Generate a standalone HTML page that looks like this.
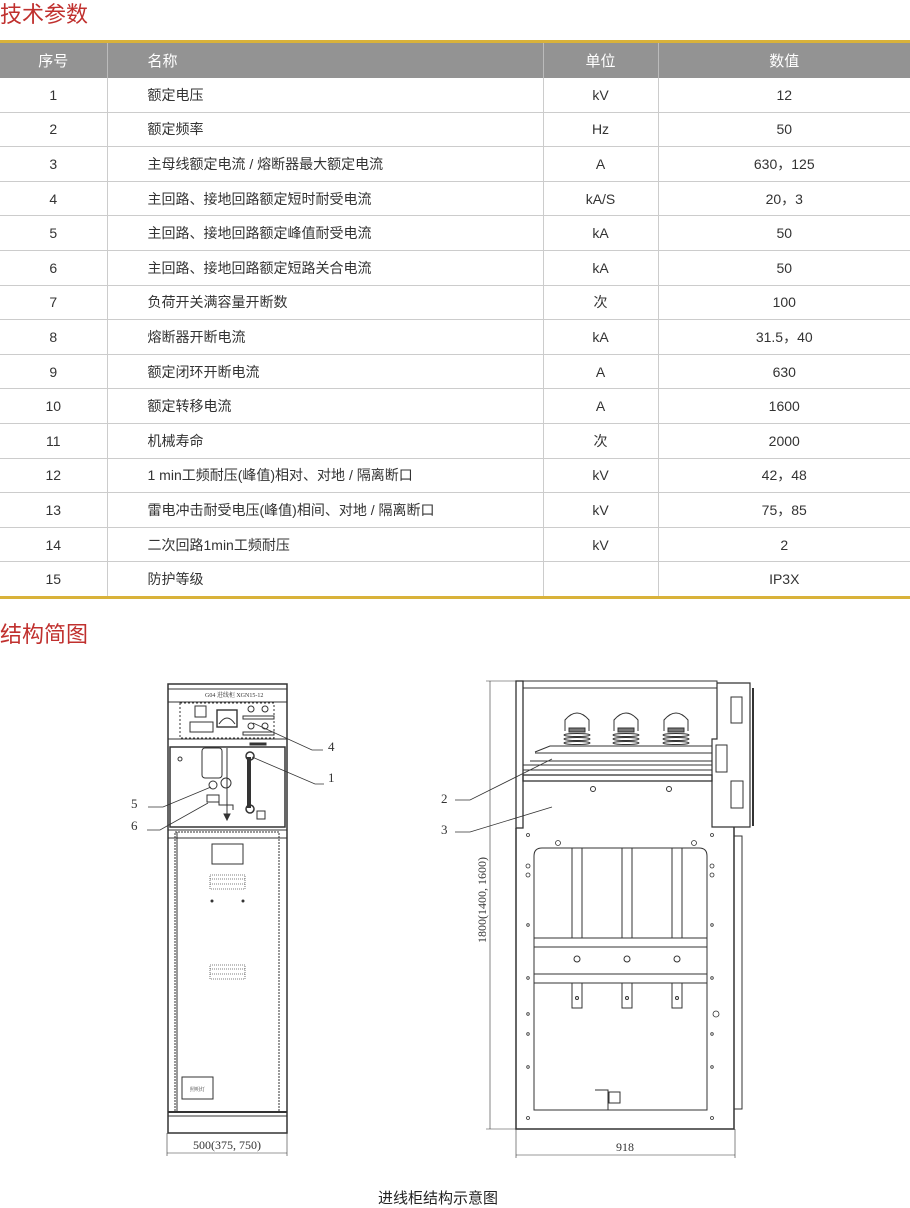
<!DOCTYPE html>
<html><head><meta charset="utf-8"><style>
body{margin:0;width:910px;height:1206px;background:#fff;position:relative;overflow:hidden;font-family:"Liberation Sans","Noto Sans CJK SC",sans-serif;}
.t{position:absolute;color:#c0302e;font-size:22px;left:0;line-height:26px;}
table{position:absolute;left:0;top:40px;width:910px;border-collapse:collapse;border-top:3px solid #d9b23a;border-bottom:3px solid #d9b23a;font-size:14px;color:#333;}
td,th{height:33.6px;padding:0;text-align:center;border-left:1px solid #ccc;border-bottom:1px solid #ccc;}
th{background:#939393;color:#fff;font-weight:normal;height:35px;font-size:15px;border-left:1px solid #bbb;border-bottom:none;}
td:first-child,th:first-child{border-left:none;}
td.n,th.n{text-align:left;padding-left:40px;}
tr:last-child td{border-bottom:none;}
svg{position:absolute;left:0;top:0;}
</style></head><body>
<div class="t" style="top:2px">技术参数</div>
<table>
<colgroup><col style="width:107px"><col style="width:436px"><col style="width:115px"><col></colgroup>
<tr><th>序号</th><th class="n">名称</th><th>单位</th><th>数值</th></tr>
<tr><td>1</td><td class="n">额定电压</td><td>kV</td><td>12</td></tr>
<tr><td>2</td><td class="n">额定频率</td><td>Hz</td><td>50</td></tr>
<tr><td>3</td><td class="n">主母线额定电流 / 熔断器最大额定电流</td><td>A</td><td>630，125</td></tr>
<tr><td>4</td><td class="n">主回路、接地回路额定短时耐受电流</td><td>kA/S</td><td>20，3</td></tr>
<tr><td>5</td><td class="n">主回路、接地回路额定峰值耐受电流</td><td>kA</td><td>50</td></tr>
<tr><td>6</td><td class="n">主回路、接地回路额定短路关合电流</td><td>kA</td><td>50</td></tr>
<tr><td>7</td><td class="n">负荷开关满容量开断数</td><td>次</td><td>100</td></tr>
<tr><td>8</td><td class="n">熔断器开断电流</td><td>kA</td><td>31.5，40</td></tr>
<tr><td>9</td><td class="n">额定闭环开断电流</td><td>A</td><td>630</td></tr>
<tr><td>10</td><td class="n">额定转移电流</td><td>A</td><td>1600</td></tr>
<tr><td>11</td><td class="n">机械寿命</td><td>次</td><td>2000</td></tr>
<tr><td>12</td><td class="n">1 min工频耐压(峰值)相对、对地 / 隔离断口</td><td>kV</td><td>42，48</td></tr>
<tr><td>13</td><td class="n">雷电冲击耐受电压(峰值)相间、对地 / 隔离断口</td><td>kV</td><td>75，85</td></tr>
<tr><td>14</td><td class="n">二次回路1min工频耐压</td><td>kV</td><td>2</td></tr>
<tr><td>15</td><td class="n">防护等级</td><td></td><td>IP3X</td></tr>
</table>
<div class="t" style="top:622px">结构简图</div>

<svg width="910" height="1206" viewBox="0 0 910 1206" fill="none" stroke="#333" stroke-width="1" font-family="Liberation Serif, Noto Serif CJK SC, serif">
<!-- LEFT CABINET -->
<rect x="168" y="684" width="119" height="449" stroke-width="1.5"/>
<line x1="168" y1="689" x2="287" y2="689"/>
<line x1="168" y1="702" x2="287" y2="702"/>
<text x="205" y="697" font-size="6" fill="#333" stroke="none">G04  进线柜  XGN15-12</text>
<rect x="180" y="703" width="94" height="35" stroke-dasharray="2,2"/>
<rect x="195" y="706" width="11" height="11"/>
<rect x="190" y="722" width="23" height="10"/>
<rect x="217" y="710" width="20" height="17" stroke-width="1.4"/>
<path d="M219 724 Q227 712 235 724"/>
<circle cx="251" cy="709" r="3"/><circle cx="265" cy="709" r="3"/>
<circle cx="251" cy="726" r="3"/><circle cx="265" cy="726" r="3"/>
<rect x="243" y="716" width="31" height="3"/><rect x="243" y="732" width="31" height="3"/>
<line x1="168" y1="739" x2="287" y2="739"/>
<line x1="170" y1="747" x2="285" y2="747"/>
<rect x="170" y="747" width="115" height="80" stroke-width="1.5"/>
<rect x="250" y="743" width="16" height="2" fill="#333"/>
<rect x="202" y="748" width="20" height="30" rx="3"/>
<line x1="227" y1="748" x2="227" y2="815"/>
<path d="M224 814 L230 814 L227 820 Z" fill="#333"/>
<line x1="249" y1="757" x2="249" y2="808" stroke-width="4"/>
<circle cx="250" cy="756" r="4" stroke-width="1.5"/><circle cx="250" cy="809" r="4" stroke-width="1.5"/>
<circle cx="180" cy="759" r="2"/>
<circle cx="213" cy="785" r="4"/>
<circle cx="226" cy="783" r="5"/>
<rect x="207" y="795" width="12" height="7"/>
<path d="M219 800 L219 805 L233 805 L233 810"/>
<rect x="257" y="811" width="8" height="8"/>
<!-- lower -->
<line x1="168" y1="830" x2="287" y2="830"/>
<line x1="168" y1="838" x2="287" y2="838"/>
<rect x="175" y="832" width="104" height="280" stroke-dasharray="2,1"/>
<line x1="177" y1="832" x2="177" y2="1112"/>
<rect x="212" y="844" width="31" height="20"/>
<g stroke="#555" stroke-width="0.8">
<rect x="210" y="875" width="35" height="14" stroke-dasharray="1,1"/>
<line x1="210" y1="879" x2="245" y2="879" stroke-dasharray="1,1"/><line x1="210" y1="884" x2="245" y2="884" stroke-dasharray="1,1"/>
<rect x="210" y="965" width="35" height="14" stroke-dasharray="1,1"/>
<line x1="210" y1="969" x2="245" y2="969" stroke-dasharray="1,1"/><line x1="210" y1="974" x2="245" y2="974" stroke-dasharray="1,1"/>
</g>
<circle cx="212" cy="901" r="1" fill="#333"/><circle cx="243" cy="901" r="1" fill="#333"/>
<rect x="182" y="1077" width="31" height="22"/>
<text x="190" y="1091" font-size="5" fill="#333" stroke="none">照明灯</text>
<line x1="168" y1="1112" x2="287" y2="1112" stroke-width="2"/>
<line x1="168" y1="1116" x2="287" y2="1116"/>
<line x1="167" y1="1133" x2="167" y2="1156" stroke-width="0.6"/><line x1="287" y1="1133" x2="287" y2="1156" stroke-width="0.6"/>
<line x1="167" y1="1153" x2="287" y2="1153" stroke-width="0.6"/>
<text x="227" y="1149" font-size="12" fill="#333" stroke="none" text-anchor="middle">500(375, 750)</text>
<!-- leaders left -->
<g stroke-width="0.8">
<polyline points="253,723 312,750 323,750"/>
<polyline points="252,757 315,784 324,784"/>
<polyline points="148,807 163,807 211,787"/>
<polyline points="147,830 160,830 208,803"/>
</g>
<g font-size="13" fill="#333" stroke="none">
<text x="328" y="751">4</text><text x="328" y="782">1</text>
<text x="131" y="808">5</text><text x="131" y="830">6</text>
<text x="441" y="803">2</text><text x="441" y="834">3</text>
</g>

<!-- RIGHT CABINET -->
<rect x="516" y="681" width="7" height="147" stroke-width="1.3"/>
<rect x="523" y="681" width="194" height="7"/>
<path d="M717 683 L750 683 L750 827 L712 827 L712 739 L717 739 Z" stroke-width="1.2"/>
<line x1="753" y1="688" x2="753" y2="826" stroke-width="2"/>
<rect x="731" y="697" width="11" height="26"/>
<rect x="716" y="745" width="11" height="27"/>
<rect x="731" y="781" width="12" height="27"/>
<g>
<g id="ins">
<path d="M565 731 L565 720 Q577 706 589 720 L589 731"/>
<rect x="569" y="728" width="16" height="4" fill="#777"/>
<ellipse cx="577" cy="735" rx="13" ry="1.5"/><ellipse cx="577" cy="739" rx="13" ry="1.5"/><ellipse cx="577" cy="743" rx="13" ry="1.5"/>
</g>
<use href="#ins" x="49"/><use href="#ins" x="99"/>
</g>
<path d="M535 752 L550 746 L712 746 L712 770 L523 770"/>
<line x1="535" y1="753" x2="712" y2="753"/>
<line x1="530" y1="761" x2="712" y2="761"/>
<line x1="523" y1="765" x2="712" y2="765"/>
<rect x="523" y="775" width="189" height="6" stroke-width="1.3"/>
<circle cx="593" cy="789" r="2.5"/><circle cx="669" cy="789" r="2.5"/>
<!-- body -->
<path d="M516 828 L516 1129 L734 1129 L734 827" stroke-width="1.5"/>
<line x1="523" y1="781" x2="523" y2="828"/>
<rect x="734" y="836" width="8" height="273"/>
<path d="M534 1110 L534 856 Q534 848 542 848 L699 848 Q707 848 707 856 L707 1110 Z"/>
<g>
<rect x="572" y="848" width="10" height="90"/><rect x="622" y="848" width="10" height="90"/><rect x="672" y="848" width="10" height="90"/>
<line x1="534" y1="938" x2="707" y2="938"/><line x1="534" y1="947" x2="707" y2="947"/>
<line x1="534" y1="974" x2="707" y2="974"/><line x1="534" y1="983" x2="707" y2="983"/>
<circle cx="577" cy="959" r="3"/><circle cx="627" cy="959" r="3"/><circle cx="677" cy="959" r="3"/>
<rect x="572" y="983" width="10" height="25"/><rect x="622" y="983" width="10" height="25"/><rect x="672" y="983" width="10" height="25"/>
<circle cx="577" cy="998" r="1.5"/><circle cx="627" cy="998" r="1.5"/><circle cx="677" cy="998" r="1.5"/>
</g>
<path d="M595 1090 L608 1090 L608 1110"/><rect x="609" y="1092" width="11" height="11"/>
<g stroke-width="0.8">
<circle cx="528" cy="835" r="1.5"/><circle cx="712" cy="835" r="1.5"/>
<circle cx="558" cy="843" r="2.5"/><circle cx="694" cy="843" r="2.5"/>
<circle cx="528" cy="866" r="2"/><circle cx="528" cy="875" r="2"/>
<circle cx="712" cy="866" r="2"/><circle cx="712" cy="875" r="2"/>
<circle cx="528" cy="925" r="1.3"/><circle cx="528" cy="978" r="1.3"/><circle cx="528" cy="1014" r="1.3"/><circle cx="528" cy="1034" r="1.3"/><circle cx="528" cy="1067" r="1.3"/>
<circle cx="712" cy="925" r="1.3"/><circle cx="712" cy="978" r="1.3"/><circle cx="716" cy="1014" r="3"/><circle cx="712" cy="1034" r="1.3"/><circle cx="712" cy="1067" r="1.3"/>
<circle cx="528" cy="1118" r="1.5"/><circle cx="712" cy="1118" r="1.5"/>
</g>
<!-- dimensions right -->
<line x1="490" y1="681" x2="490" y2="1129" stroke-width="0.6"/>
<line x1="486" y1="681" x2="516" y2="681" stroke-width="0.6"/>
<line x1="486" y1="1129" x2="516" y2="1129" stroke-width="0.6"/>
<text x="0" y="0" font-size="12" fill="#333" stroke="none" text-anchor="middle" transform="translate(486,900) rotate(-90)">1800(1400, 1600)</text>
<line x1="516" y1="1129" x2="516" y2="1158" stroke-width="0.6"/><line x1="735" y1="1129" x2="735" y2="1158" stroke-width="0.6"/>
<line x1="516" y1="1155" x2="735" y2="1155" stroke-width="0.6"/>
<text x="625" y="1151" font-size="12" fill="#333" stroke="none" text-anchor="middle">918</text>
<g stroke-width="0.8">
<polyline points="552,759 470,800 455,800"/>
<polyline points="552,807 470,832 455,832"/>
</g>
</svg>
<div style="position:absolute;left:378px;top:1187px;font-size:15px;color:#222;">进线柜结构示意图</div>
</body></html>
